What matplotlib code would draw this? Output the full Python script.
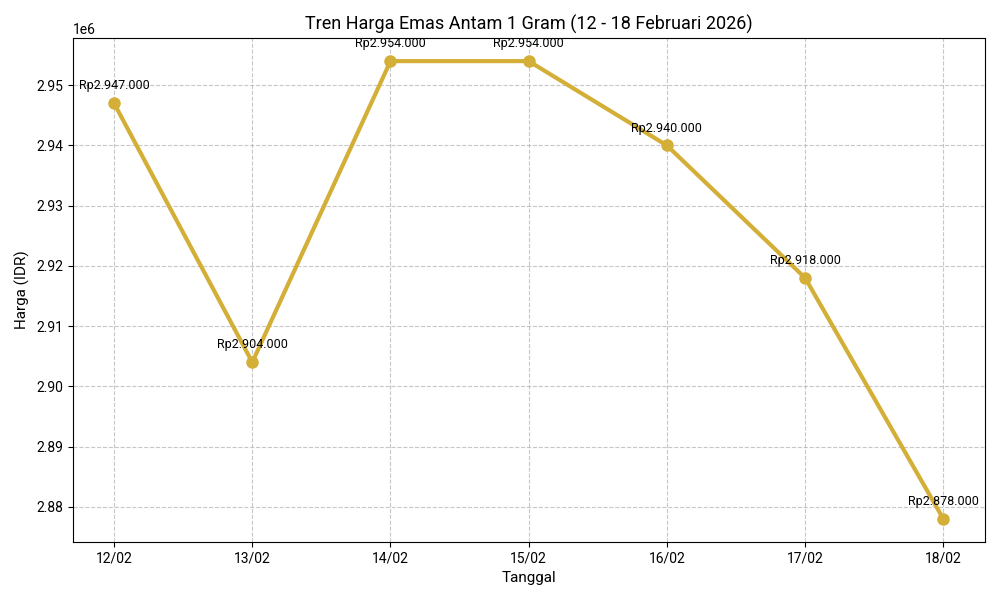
import matplotlib.pyplot as plt

plt.rcParams["font.family"] = ["Roboto", "DejaVu Sans"]

dates = ["12/02", "13/02", "14/02", "15/02", "16/02", "17/02", "18/02"]
prices = [2947000, 2904000, 2954000, 2954000, 2940000, 2918000, 2878000]

fig, ax = plt.subplots(figsize=(10, 6), dpi=100)
ax.plot(dates, prices, color="#D4AF37", linewidth=3, marker="o", markersize=8)
for x, y in zip(dates, prices):
    label = "Rp" + f"{y:,}".replace(",", ".")
    ax.annotate(label, (x, y), textcoords="offset points", xytext=(0, 10),
                ha="center", fontsize=9)

ax.set_title("Tren Harga Emas Antam 1 Gram (12 - 18 Februari 2026)", fontsize=13)
ax.set_xlabel("Tanggal", fontsize=11)
ax.set_ylabel("Harga (IDR)", fontsize=11)
ax.grid(True, linestyle="--", alpha=0.7)
fig.tight_layout()
fig.savefig("out.png")
